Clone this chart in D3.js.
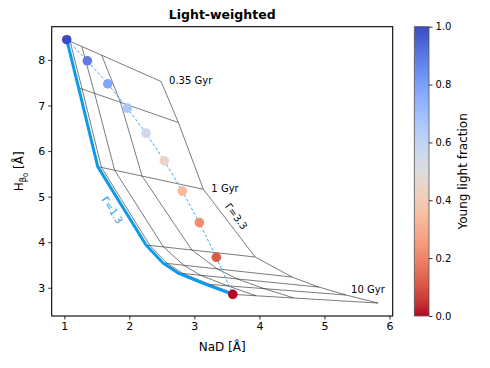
<!DOCTYPE html>
<html>
<head>
<meta charset="utf-8">
<script src="https://cdn.jsdelivr.net/npm/d3@7"></script>
<style>
  body { margin: 0; background: #fff; }
  svg text { font-family: "DejaVu Sans", sans-serif; fill: #000; }
</style>
</head>
<body>
<div id="vis"></div>
<script>
// model grid: one row per IMF slope, one column per age
var imfSlopes = [1.3, 1.8, 2.3, 2.8, 3.3];
var ages = [0.35, 0.5, 1, 2, 3, 4, 6, 10];   // Gyr
var ageLabels = {0.35: "0.35 Gyr", 1: "1 Gyr", 10: "10 Gyr"};

var gridNaD = [
    [1.037, 1.220, 1.514, 2.257, 2.518, 2.749, 3.165, 3.591],
    [1.088, 1.274, 1.571, 2.316, 2.587, 2.825, 3.241, 3.669],
    [1.269, 1.465, 1.774, 2.525, 2.836, 3.095, 3.512, 3.949],
    [1.574, 1.864, 2.196, 2.961, 3.352, 3.658, 4.076, 4.530],
    [2.488, 2.754, 3.138, 3.934, 4.503, 4.914, 5.334, 5.826]
];
var gridHb = [
    [8.444, 7.389, 5.659, 3.938, 3.543, 3.323, 3.081, 2.855],
    [8.412, 7.362, 5.642, 3.929, 3.532, 3.312, 3.073, 2.848],
    [8.297, 7.267, 5.580, 3.896, 3.494, 3.274, 3.042, 2.824],
    [8.105, 7.069, 5.451, 3.828, 3.414, 3.194, 2.980, 2.775],
    [7.527, 6.626, 5.163, 3.675, 3.235, 3.015, 2.840, 2.664]
];

// young + old mixtures
var youngFraction = [1.0, 0.889, 0.778, 0.667, 0.556, 0.444, 0.333, 0.222, 0.111, 0.0];
var mixNaD = [1.037, 1.354, 1.668, 1.969, 2.257, 2.538, 2.815, 3.077, 3.338, 3.591];
var mixHb = [8.444, 7.982, 7.477, 6.943, 6.393, 5.785, 5.121, 4.429, 3.668, 2.855];

var xTicks = [1, 2, 3, 4, 5, 6];
var yTicks = [3, 4, 5, 6, 7, 8];
var cbTicks = [0.0, 0.2, 0.4, 0.6, 0.8, 1.0];

// matplotlib coolwarm, blue -> red
var coolwarm = ["#3b4cc0", "#445acc", "#4d68d7", "#5775e1", "#6282ea", "#6c8ef1", "#779af7", "#82a5fb",
    "#8db0fe", "#98b9ff", "#a3c2ff", "#aec9fd", "#b8d0f9", "#c2d5f4", "#ccd9ee", "#d5dbe6", "#dddddd",
    "#e5d8d1", "#ecd3c5", "#f1ccb8", "#f5c4ac", "#f7bba0", "#f7b194", "#f7a687", "#f49a7b", "#f18d6f",
    "#ec7f63", "#e57058", "#de604d", "#d55042", "#cb3e38", "#c0282f", "#b40426"];

var lineBlue = "#0a9bef";

var margin = {top: 26.7, left: 51.7},
    width = 341,
    height = 289.3;

var svg = d3.select("#vis")
    .append("svg")
    .attr("width", 490)
    .attr("height", 368);

var g = svg.append("g")
    .attr("transform", "translate(" + margin.left + "," + margin.top + ")");

var x = d3.scaleLinear().domain([0.806, 6.05]).range([0, width]);
var y = d3.scaleLinear().domain([2.38, 8.73]).range([height, 0]);

var color = d3.scaleLinear()
    .domain(coolwarm.map(function (c, i) { return 1 - i / (coolwarm.length - 1); }))
    .range(coolwarm);

var line = d3.line()
    .x(function (d) { return x(d[0]); })
    .y(function (d) { return y(d[1]); });

////////// grid //////////

var gridG = g.append("g").attr("class", "grid");

// constant IMF lines
imfSlopes.forEach(function (s, i) {
    gridG.append("path")
        .attr("d", line(d3.zip(gridNaD[i], gridHb[i])))
        .attr("fill", "none")
        .attr("stroke", "#222")
        .attr("stroke-width", 0.6);
});

// constant age lines
ages.forEach(function (a, j) {
    var pts = imfSlopes.map(function (s, i) { return [gridNaD[i][j], gridHb[i][j]]; });
    gridG.append("path")
        .attr("d", line(pts))
        .attr("fill", "none")
        .attr("stroke", "#222")
        .attr("stroke-width", 0.6);
});

// Gamma = 1.3 track
g.append("path")
    .attr("d", line(d3.zip(gridNaD[0], gridHb[0])))
    .attr("fill", "none")
    .attr("stroke", lineBlue)
    .attr("stroke-width", 3)
    .attr("stroke-linejoin", "round");

// mixture path + dots
g.append("path")
    .attr("d", line(d3.zip(mixNaD, mixHb)))
    .attr("fill", "none")
    .attr("stroke", "#3aaaf5")
    .attr("stroke-width", 1)
    .attr("stroke-dasharray", "3,2");

g.selectAll(".mix")
    .data(d3.range(youngFraction.length))
    .enter()
    .append("circle")
    .attr("class", "mix")
    .attr("cx", function (i) { return x(mixNaD[i]); })
    .attr("cy", function (i) { return y(mixHb[i]); })
    .attr("r", 4.8)
    .attr("fill", function (i) { return color(youngFraction[i]); });

////////// labels on the grid //////////

var last = imfSlopes.length - 1;
ages.forEach(function (a, j) {
    if (!ageLabels[a]) return;
    var dx = a === 10 ? -27 : 8;
    var dy = a === 10 ? -10 : 3;
    g.append("text")
        .attr("x", x(gridNaD[last][j]) + dx)
        .attr("y", y(gridHb[last][j]) + dy)
        .attr("font-size", 10)
        .text(ageLabels[a]);
});

g.append("text")
    .attr("transform", "translate(" + (x(1.69)) + "," + (y(4.66)) + ") rotate(57)")
    .attr("text-anchor", "middle")
    .attr("font-size", 10)
    .style("fill", lineBlue)
    .text("Γ=1.3");

g.append("text")
    .attr("transform", "translate(" + (x(3.60)) + "," + (y(4.52)) + ") rotate(53)")
    .attr("text-anchor", "middle")
    .attr("font-size", 10)
    .text("Γ=3.3");

////////// axes //////////

var xAxis = g.append("g")
    .attr("transform", "translate(0," + height + ")")
    .call(d3.axisBottom(x).tickValues(xTicks).tickSize(3.5).tickPadding(3).tickFormat(d3.format("d")));
var yAxis = g.append("g")
    .call(d3.axisLeft(y).tickValues(yTicks).tickSize(3.5).tickPadding(3).tickFormat(d3.format("d")));

[xAxis, yAxis].forEach(function (ax) {
    ax.select(".domain").remove();
    ax.selectAll("text").attr("font-size", 11).attr("font-family", "DejaVu Sans");
    ax.selectAll("line").attr("stroke", "#000").attr("stroke-width", 0.8);
});

g.append("rect")
    .attr("width", width)
    .attr("height", height)
    .attr("fill", "none")
    .attr("stroke", "#000")
    .attr("stroke-width", 1.1);

svg.append("text")
    .attr("x", margin.left + width / 2)
    .attr("y", 19)
    .attr("text-anchor", "middle")
    .attr("font-size", 12.5)
    .attr("font-weight", "bold")
    .text("Light-weighted");

svg.append("text")
    .attr("x", margin.left + width / 2)
    .attr("y", 351)
    .attr("text-anchor", "middle")
    .attr("font-size", 12)
    .text("NaD [Å]");

var yl = svg.append("text")
    .attr("transform", "translate(23," + (margin.top + height / 2) + ") rotate(-90)")
    .attr("text-anchor", "middle")
    .attr("font-size", 12);
yl.append("tspan").text("H");
yl.append("tspan").attr("font-size", 8.5).attr("dy", 3).text("β");
yl.append("tspan").attr("font-size", 6.5).attr("dy", 1.5).text("0");
yl.append("tspan").attr("dy", -4.5).text(" [Å]");

////////// colorbar //////////

var cbX = 414.3, cbW = 14.7;
var cb = d3.scaleLinear().domain([0, 1]).range([margin.top + height, margin.top]);

var grad = svg.append("defs").append("linearGradient")
    .attr("id", "cbgrad")
    .attr("x1", 0).attr("y1", 1).attr("x2", 0).attr("y2", 0);
d3.range(41).forEach(function (i) {
    var t = i / 40;
    grad.append("stop").attr("offset", t).attr("stop-color", color(t));
});

svg.append("rect")
    .attr("x", cbX)
    .attr("y", margin.top)
    .attr("width", cbW)
    .attr("height", height)
    .attr("fill", "url(#cbgrad)")
    .attr("stroke", "#555")
    .attr("stroke-width", 0.8);

var cbAxis = svg.append("g")
    .attr("transform", "translate(" + (cbX + cbW) + ",0)")
    .call(d3.axisRight(cb).tickValues(cbTicks).tickSize(3.5).tickPadding(3).tickFormat(d3.format(".1f")));
cbAxis.select(".domain").remove();
cbAxis.selectAll("text").attr("font-size", 10).attr("font-family", "DejaVu Sans");
cbAxis.selectAll("line").attr("stroke", "#000").attr("stroke-width", 0.8);

svg.append("text")
    .attr("transform", "translate(467," + (margin.top + height / 2) + ") rotate(-90)")
    .attr("text-anchor", "middle")
    .attr("font-size", 12)
    .text("Young light fraction");
</script>
</body>
</html>
